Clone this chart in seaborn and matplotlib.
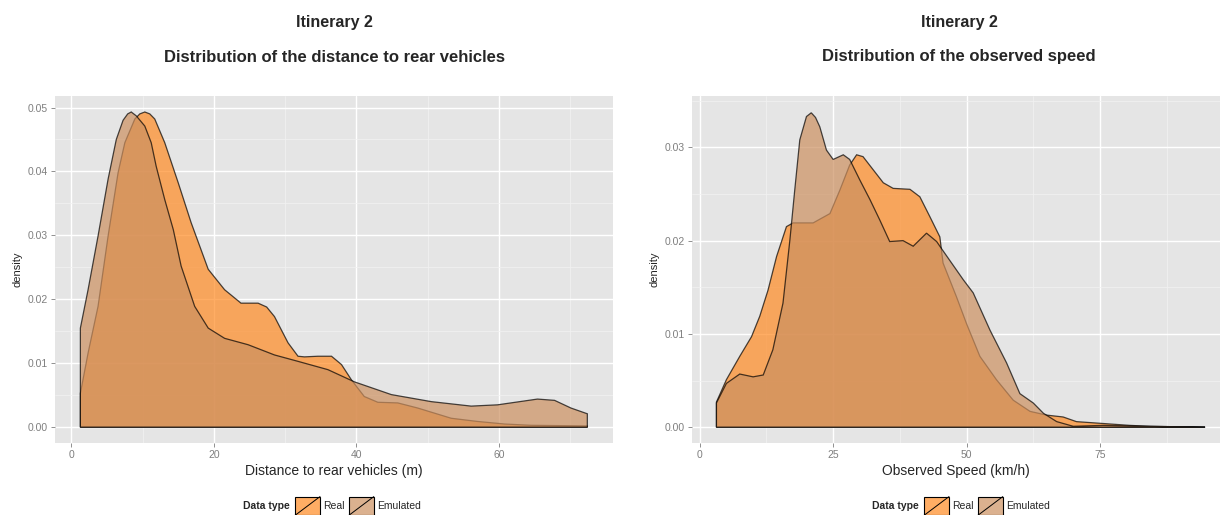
import numpy as np
import matplotlib
matplotlib.use("Agg")
import matplotlib.pyplot as plt
import seaborn as sns
from matplotlib.patches import Rectangle, Patch
from matplotlib.lines import Line2D
from matplotlib.legend_handler import HandlerPatch

# --- data (density curves) ---
dist_real_x = [1.26, 2.34, 3.74, 5.15, 6.55, 7.5, 8.9, 9.6, 10.3, 11.0, 11.7, 13.1, 15.0, 16.8,
               19.2, 21.5, 23.8, 26.2, 27.4, 28.5, 30.4, 31.8, 32.7, 34.6, 36.5, 37.9, 39.3,
               41.1, 43.0, 45.8, 48.6, 53.3, 57.0, 60.8, 64.5, 72.4]
dist_real_y = [0.0053, 0.0116, 0.0189, 0.0299, 0.0398, 0.0445, 0.0482, 0.0490, 0.0493, 0.0490,
               0.0482, 0.0445, 0.0382, 0.0320, 0.0247, 0.0215, 0.0194, 0.0194, 0.0188, 0.0173,
               0.0132, 0.0111, 0.0110, 0.0111, 0.0111, 0.0098, 0.0074, 0.0048, 0.0039, 0.0038,
               0.0030, 0.0014, 0.0009, 0.0005, 0.0003, 0.0002]
dist_emul_x = [1.26, 2.34, 3.74, 5.15, 6.3, 7.25, 7.9, 8.4, 9.1, 10.3, 11.2, 11.9, 13.1, 14.3,
               15.4, 17.3, 19.2, 21.5, 24.8, 28.5, 31.8, 36.0, 39.7, 44.9, 50.5, 56.1, 59.8,
               65.4, 67.8, 70.1, 72.4]
dist_emul_y = [0.0155, 0.0215, 0.0299, 0.0388, 0.0450, 0.0480, 0.0490, 0.0493, 0.0487, 0.0471,
               0.0445, 0.0408, 0.0356, 0.0309, 0.0252, 0.0189, 0.0155, 0.0139, 0.0129, 0.0113,
               0.0103, 0.0090, 0.0071, 0.0051, 0.0040, 0.0033, 0.0035, 0.0044, 0.0042, 0.0030,
               0.0021]

speed_real_x = [3.13, 5.0, 7.5, 9.7, 11.25, 12.8, 14.4, 16.25, 17.5, 21.25, 24.4, 26.25, 28.1,
                29.4, 30.6, 32.5, 34.4, 36.25, 39.4, 41.25, 43.1, 45.0, 45.6, 48.1, 50.0, 52.5,
                55.6, 58.75, 61.9, 65.0, 68.1, 70.6, 75.6, 80.6, 84.4, 94.7]
speed_real_y = [0.0027, 0.0051, 0.0076, 0.0097, 0.0119, 0.0147, 0.0183, 0.0215, 0.0219, 0.0219,
                0.0229, 0.0254, 0.0281, 0.0292, 0.0290, 0.0276, 0.0262, 0.0256, 0.0255, 0.0247,
                0.0226, 0.0204, 0.0176, 0.0140, 0.0111, 0.0076, 0.0051, 0.0029, 0.0017, 0.0013,
                0.0011, 0.0006, 0.0004, 0.0002, 0.0001, 0.0]
speed_emul_x = [3.13, 5.0, 7.5, 10.0, 11.9, 13.7, 15.6, 16.9, 17.8, 18.75, 20.0, 20.9, 21.7,
                22.5, 23.75, 25.0, 26.9, 28.1, 30.0, 31.9, 33.75, 35.6, 38.1, 40.0, 42.5, 44.4,
                45.0, 49.4, 51.25, 54.4, 57.5, 60.0, 62.5, 64.4, 66.9, 70.0, 75.6, 84.4, 94.7]
speed_emul_y = [0.0026, 0.0047, 0.0057, 0.0054, 0.0056, 0.0083, 0.0133, 0.0201, 0.0254, 0.0308,
                0.0333, 0.0337, 0.0332, 0.0322, 0.0297, 0.0287, 0.0292, 0.0287, 0.0265, 0.0244,
                0.0222, 0.0199, 0.0200, 0.0194, 0.0208, 0.0199, 0.0194, 0.0158, 0.0144, 0.0104,
                0.0069, 0.0036, 0.0026, 0.0015, 0.0006, 0.0001, 0.0002, 0.0001, 0.0]

series_names = ["Real", "Emulated"]
series_colors = {"Real": "#FF8A22", "Emulated": "#CC9060"}

sns.set_theme(style="darkgrid")
plt.rcParams["font.family"] = ["Liberation Sans", "DejaVu Sans"]
plt.rcParams["axes.facecolor"] = "#E5E5E5"
plt.rcParams["grid.color"] = "white"

fig = plt.figure(figsize=(12.2, 5.15), dpi=100)
ax1 = fig.add_axes([55 / 1220, 72 / 515, 558 / 1220, 347 / 515])
ax2 = fig.add_axes([692 / 1220, 72 / 515, 528 / 1220, 347 / 515])


def draw_density(ax, x, y, color):
    px = np.r_[x[0], x, x[-1]]
    py = np.r_[0, y, 0]
    ax.fill(px, py, facecolor=color, alpha=0.7, edgecolor="none")
    ax.fill(px, py, facecolor="none", edgecolor="black", linewidth=0.9, alpha=0.7)


def style_axis(ax, xmajor, xminor, ymajor, yminor, xlim, ylim, xlabel, title, cx):
    ax.set_xlim(*xlim)
    ax.set_ylim(*ylim)
    ax.set_xticks(xmajor)
    ax.set_xticks(xminor, minor=True)
    ax.set_yticks(ymajor)
    ax.set_yticks(yminor, minor=True)
    ax.set_yticklabels([f"{v:.2f}" for v in ymajor])
    ax.grid(which="major", color="white", linewidth=1.0)
    ax.grid(which="minor", color="#F2F2F2", linewidth=0.5)
    ax.tick_params(axis="both", which="major", labelsize=7.5, labelcolor="#7F7F7F",
                   length=3, width=0.6, color="#7F7F7F", pad=2, left=True, bottom=True)
    ax.tick_params(which="minor", length=0)
    for s in ax.spines.values():
        s.set_visible(False)
    ax.set_axisbelow(True)
    ax.set_xlabel(xlabel, fontsize=10, labelpad=3,
                  family=["Liberation Sans Narrow", "Liberation Sans", "DejaVu Sans"])
    ax.set_ylabel("density", fontsize=8, labelpad=4)
    fig.text(cx / 1220, 1 - 22 / 515, "Itinerary 2", fontsize=11.5, fontweight="bold",
             ha="center", va="center")
    fig.text(cx / 1220, 1 - 57 / 515, title, fontsize=12, fontweight="bold",
             ha="center", va="center")


draw_density(ax1, dist_real_x, dist_real_y, series_colors["Real"])
draw_density(ax1, dist_emul_x, dist_emul_y, series_colors["Emulated"])
style_axis(ax1, [0, 20, 40, 60], [10, 30, 50, 70],
           [0, 0.01, 0.02, 0.03, 0.04, 0.05], [0.005, 0.015, 0.025, 0.035, 0.045],
           (-2.3, 76.0), (-0.00247, 0.0518),
           "Distance to rear vehicles (m)", "Distribution of the distance to rear vehicles", 334)

draw_density(ax2, speed_real_x, speed_real_y, series_colors["Real"])
draw_density(ax2, speed_emul_x, speed_emul_y, series_colors["Emulated"])
style_axis(ax2, [0, 25, 50, 75], [12.5, 37.5, 62.5, 87.5],
           [0, 0.01, 0.02, 0.03], [0.005, 0.015, 0.025, 0.035],
           (-1.45, 97.5), (-0.00169, 0.0355),
           "Observed Speed (km/h)", "Distribution of the observed speed", 959)


class HandlerKey(HandlerPatch):
    def create_artists(self, legend, orig_handle, xdescent, ydescent, width, height,
                       fontsize, trans):
        r = Rectangle((-xdescent, -ydescent), width, height,
                      facecolor=orig_handle.get_facecolor(), edgecolor="black",
                      linewidth=0.8, transform=trans)
        ln = Line2D([-xdescent, -xdescent + width], [-ydescent, -ydescent + height],
                    color="black", linewidth=0.7, transform=trans)
        return [r, ln]


handles = [Patch(facecolor=series_colors[n], alpha=0.7) for n in series_names]
for tx in [266, 895]:
    fig.text(tx / 1220, 1 - 506 / 515, "Data type", fontsize=7.5, fontweight="bold",
             ha="center", va="center")
    fig.legend(handles, series_names, loc="center left",
               bbox_to_anchor=((tx + 29) / 1220, 1 - 506 / 515), ncol=2,
               frameon=False, fontsize=7.5, handler_map={Patch: HandlerKey()},
               handlelength=2.4, handleheight=2.4, handletextpad=0.3,
               columnspacing=0.4, borderpad=0, borderaxespad=0)

fig.savefig("out.png", dpi=100)
